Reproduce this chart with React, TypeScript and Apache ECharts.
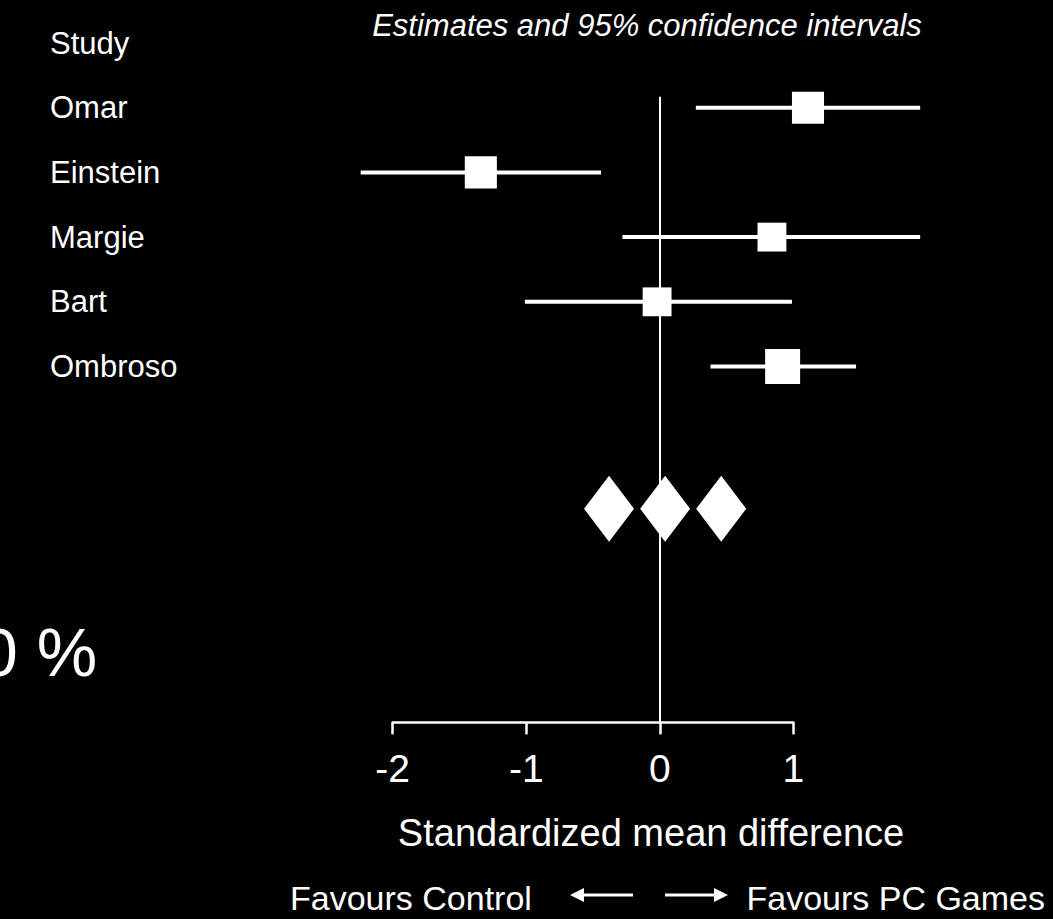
import React, { useEffect, useRef } from "react";
import * as echarts from "echarts";

const studies = ["Omar", "Einstein", "Margie", "Bart", "Ombroso"];
const estimates = [1.11, -1.34, 0.84, -0.02, 0.92];
const lower = [0.27, -2.24, -0.28, -1.01, 0.38];
const upper = [1.95, -0.44, 1.95, 0.99, 1.47];
const weights = [21, 21, 17, 17, 25];
const summaryEstimates = [-0.38, 0.04, 0.46];
const summaryRow = 7.2;
const headerLabel = "Study";
const titleText = "Estimates and 95% confidence intervals";
const axisTitle = "Standardized mean difference";
const leftNote = "Favours Control";
const rightNote = "Favours PC Games";
const heterogeneityText = "0 %";

const FONT = "'Liberation Sans', Arial, sans-serif";

export default function App() {
  const ref = useRef<HTMLDivElement>(null);
  useEffect(() => {
    if (!ref.current) return;
    const chart = echarts.init(ref.current, undefined, { renderer: "svg" });
    const ciData = studies.map((_, i) => [lower[i], upper[i], i + 1]);
    const sqData = studies.map((_, i) => [estimates[i], i + 1, weights[i]]);
    const diaData = summaryEstimates.map((v) => [v, summaryRow]);
    chart.setOption({
      animation: false,
      backgroundColor: "#000",
      textStyle: { fontFamily: FONT },
      grid: { left: 392.7, right: 259.7, top: 43, bottom: 196.6 },
      xAxis: {
        type: "value",
        position: "bottom",
        min: -2,
        max: 1,
        interval: 1,
        axisLine: { show: true, onZero: false, lineStyle: { color: "#fff", width: 2.5 } },
        axisTick: { show: true, length: 12, lineStyle: { color: "#fff", width: 2.5 } },
        axisLabel: { color: "#fff", fontSize: 39, margin: 27, fontFamily: FONT },
        splitLine: { show: false },
      },
      yAxis: {
        type: "value",
        inverse: true,
        min: 0,
        max: 10.5,
        interval: 1,
        axisLine: { show: false },
        axisTick: { show: false },
        splitLine: { show: false },
        axisLabel: {
          color: "#fff",
          fontSize: 31,
          align: "left",
          margin: 342.7,
          fontFamily: FONT,
          formatter: (v: number) => {
            if (v === 0) return headerLabel;
            if (v >= 1 && v <= studies.length && Number.isInteger(v)) return studies[v - 1];
            return "";
          },
        },
      },
      series: [
        {
          type: "custom",
          clip: false,
          z: 2,
          data: ciData,
          renderItem: (params: any, api: any) => {
            const p1 = api.coord([api.value(0), api.value(2)]);
            const p2 = api.coord([api.value(1), api.value(2)]);
            return {
              type: "line",
              shape: { x1: p1[0], y1: p1[1], x2: p2[0], y2: p2[1] },
              style: { stroke: "#fff", lineWidth: 4 },
            };
          },
          markLine: {
            silent: true,
            symbol: "none",
            label: { show: false },
            lineStyle: { color: "#fff", width: 2, type: "solid" },
            data: [[{ coord: [0, 0.83] }, { coord: [0, 10.5] }]],
          },
        },
        {
          type: "scatter",
          clip: false,
          z: 3,
          symbol: "rect",
          symbolSize: (d: number[]) => 7 * Math.sqrt(d[2]),
          itemStyle: { color: "#fff", opacity: 1 },
          data: sqData,
        },
        {
          type: "scatter",
          clip: false,
          z: 3,
          symbol: "diamond",
          symbolSize: [50, 66],
          itemStyle: { color: "#fff", opacity: 1 },
          data: diaData,
        },
      ],
      graphic: [
        {
          type: "text",
          x: 647,
          y: 25,
          style: {
            text: titleText,
            fill: "#fff",
            fontSize: 31,
            fontStyle: "italic",
            fontFamily: FONT,
            align: "center",
            verticalAlign: "middle",
          },
        },
        {
          type: "text",
          x: 651,
          y: 833,
          style: {
            text: axisTitle,
            fill: "#fff",
            fontSize: 38,
            fontFamily: FONT,
            align: "center",
            verticalAlign: "middle",
          },
        },
        {
          type: "text",
          x: 290,
          y: 898,
          style: {
            text: leftNote,
            fill: "#fff",
            fontSize: 34,
            fontFamily: FONT,
            align: "left",
            verticalAlign: "middle",
          },
        },
        {
          type: "text",
          x: 1045,
          y: 898,
          style: {
            text: rightNote,
            fill: "#fff",
            fontSize: 34,
            fontFamily: FONT,
            align: "right",
            verticalAlign: "middle",
          },
        },
        {
          type: "text",
          x: -20,
          y: 652,
          style: {
            text: heterogeneityText,
            fill: "#fff",
            fontSize: 68,
            fontFamily: FONT,
            align: "left",
            verticalAlign: "middle",
          },
        },
        { type: "line", shape: { x1: 582, y1: 895, x2: 633, y2: 895 }, style: { stroke: "#fff", lineWidth: 3 } },
        { type: "polygon", shape: { points: [[570, 895], [584, 888], [584, 902]] }, style: { fill: "#fff" } },
        { type: "line", shape: { x1: 665, y1: 895, x2: 716, y2: 895 }, style: { stroke: "#fff", lineWidth: 3 } },
        { type: "polygon", shape: { points: [[728, 895], [714, 888], [714, 902]] }, style: { fill: "#fff" } },
      ],
    });
    return () => chart.dispose();
  }, []);
  return (
    <div
      ref={ref}
      style={{ position: "fixed", left: 0, top: 0, width: 1053, height: 919, background: "#000" }}
    />
  );
}
